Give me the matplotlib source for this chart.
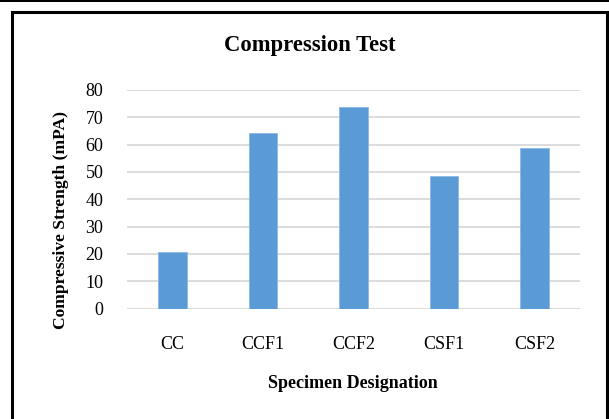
import matplotlib
matplotlib.use("Agg")
import matplotlib.pyplot as plt
from matplotlib.patches import Rectangle
import numpy as np

# data
specimens = ["CC", "CCF1", "CCF2", "CSF1", "CSF2"]
strength = [20.7, 64.2, 73.9, 48.4, 58.6]
yticks = [0, 10, 20, 30, 40, 50, 60, 70, 80]

plt.rcParams["font.family"] = ["Liberation Serif", "DejaVu Serif"]

W, H = 609, 419
fig = plt.figure(figsize=(W / 100, H / 100), dpi=100)

# page frame
fig.patches.append(Rectangle((0, 1 - 2.5 / H), 1, 2.5 / H, transform=fig.transFigure,
                             facecolor="black", edgecolor="none"))
fig.patches.append(Rectangle((12 / W, -0.1), (607 - 12) / W, 1.1 - 12 / H,
                             transform=fig.transFigure, facecolor="none",
                             edgecolor="black", linewidth=2.2))

ax = fig.add_axes([127 / W, (H - 308.6) / H, 453 / W, 218.6 / H])
x = np.arange(len(specimens))
ax.bar(x, strength, width=0.315, color="#5B9BD5", edgecolor="#8AB8E6",
       linewidth=0.6, zorder=3)
ax.set_xlim(-0.5, len(specimens) - 0.5)
ax.set_ylim(0, 80)
ax.set_yticks(yticks)
ax.set_xticks(x)
ax.set_xticklabels(specimens)
ax.yaxis.grid(True, color="#d9d9d9", linewidth=1.3, zorder=0)
ax.set_axisbelow(True)
for s in ax.spines.values():
    s.set_visible(False)
ax.tick_params(axis="both", length=0, labelsize=13)
ax.tick_params(axis="y", pad=17)
ax.tick_params(axis="x", pad=20)

fig.text(310 / W, 1 - 45 / H, "Compression Test", ha="center", va="center",
         fontsize=16.3, fontweight="bold")
fig.text(353 / W, 1 - 383 / H, "Specimen Designation", ha="center", va="center",
         fontsize=13, fontweight="bold")
fig.text(61 / W, 1 - 220 / H, "Compressive Strength (mPA)", ha="center", va="center",
         rotation=90, fontsize=12.6, fontweight="bold")

fig.savefig("out.png", dpi=100)
